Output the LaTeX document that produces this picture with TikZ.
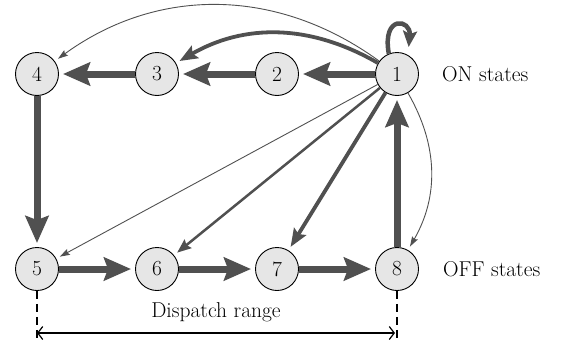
\documentclass[tikz,border=0pt]{standalone}
\usetikzlibrary{arrows.meta}
\definecolor{arrgray}{RGB}{80,80,80}
\definecolor{statefill}{RGB}{230,230,230}
\begin{document}
\begin{tikzpicture}[x=1pt,y=1pt,
  font=\rmfamily\fontsize{21.5}{26}\selectfont,
  state/.style={circle,draw=black,line width=0.9pt,fill=statefill,minimum size=43pt,inner sep=0pt},
  bigarr/.style={draw=arrgray,line width=7pt,-{Stealth[length=27pt,width=23pt,inset=4pt]},shorten >=4pt},
  midarr/.style={draw=arrgray,line width=3.8pt,-{Stealth[length=18pt,width=14pt,inset=3pt]},shorten >=4pt},
  medarr/.style={draw=arrgray,line width=2.5pt,-{Stealth[length=14pt,width=11pt,inset=2pt]},shorten >=4pt},
  thinarr/.style={draw=arrgray,line width=0.9pt,-{Stealth[length=10pt,width=6.5pt,inset=1.5pt]},shorten >=4pt},
  looparr/.style={draw=arrgray,line width=4.5pt,-{Stealth[length=16pt,width=14pt,inset=3pt]},shorten >=8pt},
  dashline/.style={draw=black,line width=1.2pt,dash pattern=on 8pt off 5pt},
  rangearr/.style={draw=black,line width=1.2pt,{Straight Barb[length=5pt,width=13pt]}-{Straight Barb[length=5pt,width=13pt]}}
]
\useasboundingbox (-37,-80) rectangle (524,269);
% nodes
\node[state] (n1) at (360,195) {1};
\node[state] (n2) at (240,195) {2};
\node[state] (n3) at (120,195) {3};
\node[state] (n4) at (0,195) {4};
\node[state] (n5) at (0,0) {5};
\node[state] (n6) at (120,0) {6};
\node[state] (n7) at (240,0) {7};
\node[state] (n8) at (360,0) {8};
% labels
\node[anchor=west,inner sep=0pt] (lon) at (405,195) {ON states};
\node[anchor=west,inner sep=0pt] (loff) at (406,0) {OFF states};
\node[inner sep=0pt] (ldr) at (179,-43) {Dispatch range};
% main cycle
\draw[bigarr] (n1) -- (n2);
\draw[bigarr] (n2) -- (n3);
\draw[bigarr] (n3) -- (n4);
\draw[bigarr] (n4) -- (n5);
\draw[bigarr] (n5) -- (n6);
\draw[bigarr] (n6) -- (n7);
\draw[bigarr] (n7) -- (n8);
\draw[bigarr] (n8) -- (n1);
% from state 1
\draw[thinarr] (n1) -- (n5);
\draw[medarr] (n1) -- (n6);
\draw[midarr] (n1) -- (n7);
\draw[midarr] (n1) to[bend right=30] (n3);
\draw[thinarr] (n1) to[bend right=36] (n4);
\draw[thinarr] (n1) to[bend left=30] (n8);
\draw[looparr] (n1.112) .. controls +(100:40) and +(85:36) .. (n1.60);
% dispatch range
\coordinate (d5) at (0,-73);
\coordinate (d8) at (360,-73);
\coordinate (r5) at (0,-64);
\coordinate (r8) at (358,-64);
\draw[dashline] (n5.south) -- (d5);
\draw[dashline] (n8.south) -- (d8);
\draw[rangearr] (r5) -- (r8);
\end{tikzpicture}
\end{document}
